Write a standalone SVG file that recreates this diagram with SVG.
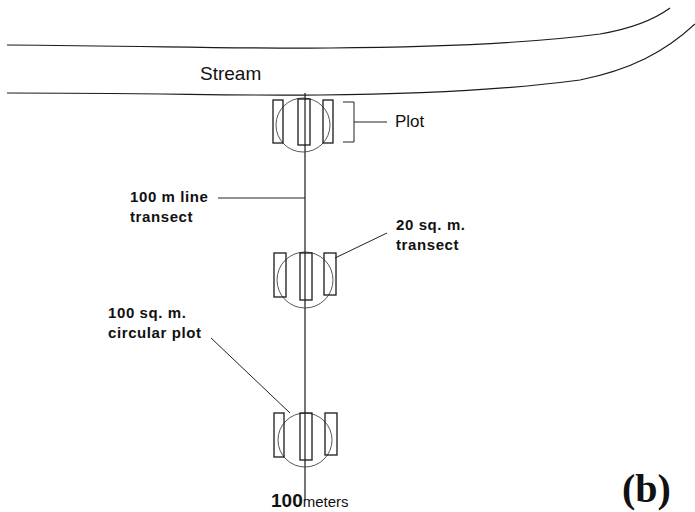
<svg xmlns="http://www.w3.org/2000/svg" width="695" height="512" viewBox="0 0 695 512">
<style>
.ln{fill:none;stroke:#1a1a1a;stroke-width:1.2}
.thin{fill:none;stroke:#222;stroke-width:1}
.circ{fill:none;stroke:#444;stroke-width:0.9}
.rc{fill:none;stroke:#1a1a1a;stroke-width:1.3}
.reg{font-family:"Liberation Sans",Arial,sans-serif;fill:#111}
.bld{font-family:"Liberation Sans",Arial,sans-serif;font-weight:bold;font-size:15px;letter-spacing:0.6px;fill:#111}
</style>
<rect width="695" height="512" fill="#fff"/>
<g id="stream">
<path class="ln" d="M7,45 C150,46 250,49 330,48 C450,47 540,42 600,34 C635,28 655,19 670,8"/>
<path class="ln" d="M7,93 C150,93 250,96 320,95 C430,94 520,88 580,80 C630,70 665,52 695,24"/>
<text class="reg" x="200" y="80" font-size="19">Stream</text>
</g>
<g id="connectors">
<line class="ln" x1="305" y1="93" x2="305" y2="500"/>
<line class="thin" x1="218" y1="198" x2="305" y2="198"/>
<line class="thin" x1="387" y1="233" x2="335" y2="258"/>
<line class="thin" x1="211" y1="338" x2="290" y2="413"/>
<line class="thin" x1="354" y1="122" x2="387" y2="122"/>
</g>
<g id="plot1">
<circle class="circ" cx="303" cy="125" r="27"/>
<rect class="rc" x="273" y="100" width="10" height="43"/>
<rect class="rc" x="298" y="99" width="12" height="46"/>
<rect class="rc" x="323" y="100" width="10" height="43"/>
<path class="thin" d="M343,102 H354 V142 H343"/>
</g>
<g id="plot2">
<circle class="circ" cx="305" cy="280" r="28"/>
<rect class="rc" x="274" y="253" width="12" height="44"/>
<rect class="rc" x="300" y="253" width="12" height="47"/>
<rect class="rc" x="324" y="253" width="12" height="42"/>
</g>
<g id="plot3">
<circle class="circ" cx="305" cy="440" r="27"/>
<rect class="rc" x="274" y="413" width="10" height="44"/>
<rect class="rc" x="300" y="413" width="12" height="47"/>
<rect class="rc" x="325" y="413" width="12" height="42"/>
</g>
<g id="labels">
<text class="reg" x="395" y="127" font-size="17">Plot</text>
<text class="bld" x="130" y="202">100 m line</text>
<text class="bld" x="130" y="222">transect</text>
<text class="bld" x="396" y="230">20 sq. m.</text>
<text class="bld" x="396" y="250">transect</text>
<text class="bld" x="108" y="318">100 sq. m.</text>
<text class="bld" x="108" y="338">circular plot</text>
<text class="reg" x="271" y="507" font-size="19"><tspan font-weight="bold">100</tspan><tspan font-size="15">meters</tspan></text>
<text x="622" y="502" font-family="Liberation Serif,'Times New Roman',serif" font-weight="bold" font-size="40" fill="#111">(b)</text>
</g>
</svg>
